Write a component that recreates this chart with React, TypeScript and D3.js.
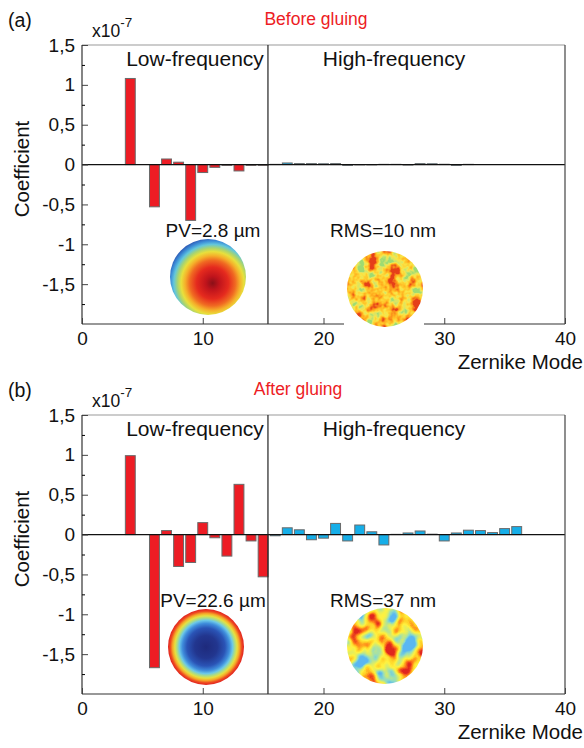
import React, { useEffect, useRef } from 'react';
import * as d3 from 'd3';

// Zernike modes (piston, tilt and mode 5 are absent)
const lowModes = [4, 6, 7, 8, 9, 10, 11, 12, 13, 14, 15];
const highModes = [16, 17, 18, 19, 20, 21, 22, 23, 24, 25, 26, 27, 28, 29, 30, 31, 32, 33, 34, 35, 36];

// coefficients, in units of 1e-7
const beforeLow = [1.08, -0.53, 0.07, 0.03, -0.70, -0.10, -0.035, -0.01, -0.08, -0.01, -0.01];
const beforeHigh = [0.003, 0.02, 0.012, 0.012, 0.01, 0.012, -0.01, -0.004, -0.004, 0.003, 0.003,
	-0.006, 0.012, 0.01, 0.004, -0.01, 0.003, 0, 0, 0, 0];
const afterLow = [0.99, -1.67, 0.05, -0.40, -0.35, 0.15, -0.04, -0.27, 0.63, -0.08, -0.53];
const afterHigh = [-0.015, 0.085, 0.06, -0.065, -0.045, 0.14, -0.08, 0.12, 0.035, -0.13, 0.003,
	0.02, 0.045, 0.005, -0.08, 0.02, 0.055, 0.05, 0.025, 0.075, 0.10];

const yTicks = [-1.5, -1, -0.5, 0, 0.5, 1, 1.5];
const yMinor = [-1.75, -1.25, -0.75, -0.25, 0.25, 0.75, 1.25];
const xTicks = [0, 10, 20, 30, 40];
const splitMode = 15.4;

const FONT = '"Liberation Sans", Arial, Helvetica, sans-serif';
const RED = '#ed1c24';
const BLUE = '#16aee8';

const panels = [
	{
		key: 'a', dy: 0, tag: '(a)', title: 'Before gluing', titleX: 316,
		low: beforeLow, high: beforeHigh, pv: 'PV=2.8 µm', rms: 'RMS=10 nm', axisGap: true,
		pvCenter: [208, 277], rmsCenter: [385, 289],
		pvGrad: { cx: 0.56, cy: 0.58, r: 0.6, stops: [
			[0, '#8a1018'], [0.15, '#c0141c'], [0.35, '#e52a1e'], [0.5, '#f06a22'], [0.6, '#f5b02a'],
			[0.69, '#e8e03c'], [0.77, '#a8d470'], [0.85, '#62c6dc'], [0.92, '#3e90d8'], [1, '#2c58b4']] },
		noise: { freq: 0.09, oct: 3, seed: 4, slope: 2.2, icpt: -0.6,
			r: '0.62 0.85 0.98 1 1 0.97 0.9',
			g: '0.86 0.9 0.9 0.8 0.68 0.5 0.25',
			b: '0.45 0.4 0.28 0.18 0.12 0.1 0.1' }
	},
	{
		key: 'b', dy: 370, tag: '(b)', title: 'After gluing', titleX: 298,
		low: afterLow, high: afterHigh, pv: 'PV=22.6 µm', rms: 'RMS=37 nm', axisGap: false,
		pvCenter: [206, 647], rmsCenter: [385, 646],
		pvGrad: { cx: 0.5, cy: 0.5, r: 0.5, stops: [
			[0, '#1e2a7c'], [0.3, '#22368f'], [0.5, '#2a54b6'], [0.62, '#3f8ddc'], [0.7, '#6cc8e8'],
			[0.76, '#a8dc8a'], [0.82, '#e6e040'], [0.88, '#f5a828'], [0.94, '#ee4a20'], [1, '#e02020']] },
		noise: { freq: 0.06, oct: 2, seed: 9, slope: 2.3, icpt: -0.65,
			r: '0.35 0.55 0.82 1 1 1 0.88',
			g: '0.72 0.86 0.92 0.95 0.82 0.48 0.15',
			b: '0.95 0.78 0.45 0.25 0.15 0.1 0.12' }
	}
];

const drawPanel = (svg, defs, p) => {
	const top = 45 + p.dy;
	const bottom = 324 + p.dy;
	const x = d3.scaleLinear().domain([0, 40]).range([82, 565]);
	const y = d3.scaleLinear().domain([-2, 1.5]).range([bottom, top]);
	const g = svg.append('g').attr('font-family', FONT);
	const half = 0.41;

	// bars
	const bars = [
		...lowModes.map((m, i) => ({ m, v: p.low[i], c: RED })),
		...highModes.map((m, i) => ({ m, v: p.high[i], c: BLUE }))
	].filter((d) => d.v !== 0);
	g.selectAll('rect.bar').data(bars)
		.enter()
		.append('rect')
		.attr('class', 'bar')
		.attr('x', (d) => x(d.m - half))
		.attr('width', x(half * 2) - x(0))
		.attr('y', (d) => y(Math.max(0, d.v)))
		.attr('height', (d) => Math.abs(y(d.v) - y(0)))
		.attr('fill', (d) => d.c)
		.attr('stroke', '#6a6a6a')
		.attr('stroke-width', 1);

	// frame
	g.append('line').attr('x1', x(0)).attr('x2', x(40)).attr('y1', y(0)).attr('y2', y(0))
		.attr('stroke', '#111').attr('stroke-width', 1.2);
	g.append('line').attr('x1', x(0)).attr('x2', x(40)).attr('y1', top).attr('y2', top)
		.attr('stroke', '#999').attr('stroke-width', 1);
	g.append('line').attr('x1', x(splitMode)).attr('x2', x(splitMode)).attr('y1', top).attr('y2', bottom)
		.attr('stroke', '#222').attr('stroke-width', 1.2);
	g.append('line').attr('x1', x(40)).attr('x2', x(40)).attr('y1', top).attr('y2', bottom)
		.attr('stroke', '#444').attr('stroke-width', 1.2);

	const yAxis = g.append('g').attr('transform', `translate(${ x(0) },0)`)
		.call(d3.axisLeft(y).tickValues(yTicks)
			.tickSizeInner(-6)
			.tickSizeOuter(0)
			.tickPadding(7)
			.tickFormat((d) => String(d).replace('.', ',')));
	yAxis.select('.domain').remove();
	g.append('line').attr('x1', x(0)).attr('x2', x(0)).attr('y1', top).attr('y2', bottom)
		.attr('stroke', '#333').attr('stroke-width', 1.2);
	g.append('g').attr('transform', `translate(${ x(0) },0)`)
		.call(d3.axisLeft(y).tickValues(yMinor)
			.tickSizeInner(-3)
			.tickSizeOuter(0)
			.tickFormat(() => ''))
		.select('.domain')
		.remove();

	const xAxis = g.append('g').attr('transform', `translate(0,${ bottom })`)
		.call(d3.axisBottom(x).tickValues(xTicks)
			.tickSizeInner(-6)
			.tickSizeOuter(0)
			.tickPadding(8));
	xAxis.select('.domain').remove();
	g.append('line').attr('x1', x(0)).attr('x2', x(40)).attr('y1', bottom).attr('y2', bottom)
		.attr('stroke', '#333').attr('stroke-width', 1.2);
	[yAxis, xAxis].forEach((a) => {
		a.attr('font-family', FONT).attr('font-size', 19);
		a.selectAll('line').attr('stroke', '#444');
		a.selectAll('text').attr('fill', '#111');
	});

	// texts
	const text = (tx, ty, s, size, anchor = 'middle', fill = '#111') => g.append('text')
		.attr('x', tx).attr('y', ty)
		.attr('font-size', size)
		.attr('text-anchor', anchor)
		.attr('fill', fill)
		.text(s);
	text(8, 27 + p.dy, p.tag, 19.5, 'start');
	text(p.titleX, 25 + p.dy, p.title, 17.5, 'middle', RED);
	const sci = text(92, 37 + p.dy, 'x10', 17.5, 'start');
	sci.append('tspan').attr('dy', -10).attr('font-size', 13.5).text('-7');
	text(195, 66 + p.dy, 'Low-frequency', 21);
	text(394, 66 + p.dy, 'High-frequency', 21);
	text(583, 369 + p.dy, 'Zernike Mode', 20.5, 'end');
	g.append('text').attr('transform', `translate(29,${ 169 + p.dy }) rotate(-90)`)
		.attr('font-size', 20.5).attr('text-anchor', 'middle').attr('fill', '#111')
		.text('Coefficient');
	text(213, 237 + p.dy, p.pv, 19);
	text(383, 237 + p.dy, p.rms, 19);

	// PV map (radial gradient)
	const gr = defs.append('radialGradient').attr('id', `pv-${ p.key }`)
		.attr('cx', p.pvGrad.cx).attr('cy', p.pvGrad.cy).attr('r', p.pvGrad.r);
	p.pvGrad.stops.forEach(([o, c]) => gr.append('stop').attr('offset', o).attr('stop-color', c));
	const R = 38;
	g.append('circle').attr('cx', p.pvCenter[0]).attr('cy', p.pvCenter[1]).attr('r', R)
		.attr('fill', `url(#pv-${ p.key })`);

	// RMS map (filtered noise)
	const [rx, ry] = p.rmsCenter;
	const n = p.noise;
	const f = defs.append('filter').attr('id', `rms-${ p.key }`)
		.attr('filterUnits', 'userSpaceOnUse')
		.attr('x', rx - R).attr('y', ry - R).attr('width', R * 2).attr('height', R * 2)
		.attr('color-interpolation-filters', 'sRGB');
	f.append('feTurbulence').attr('type', 'fractalNoise').attr('baseFrequency', n.freq)
		.attr('numOctaves', n.oct).attr('seed', n.seed);
	f.append('feColorMatrix').attr('type', 'matrix')
		.attr('values', '1 0 0 0 0  1 0 0 0 0  1 0 0 0 0  0 0 0 0 1');
	const stretch = f.append('feComponentTransfer');
	['feFuncR', 'feFuncG', 'feFuncB'].forEach((fn) => stretch.append(fn).attr('type', 'linear')
		.attr('slope', n.slope).attr('intercept', n.icpt));
	const map = f.append('feComponentTransfer');
	map.append('feFuncR').attr('type', 'table').attr('tableValues', n.r);
	map.append('feFuncG').attr('type', 'table').attr('tableValues', n.g);
	map.append('feFuncB').attr('type', 'table').attr('tableValues', n.b);
	defs.append('clipPath').attr('id', `clip-${ p.key }`)
		.append('circle').attr('cx', rx).attr('cy', ry).attr('r', R);
	if (p.axisGap) {
		g.append('rect').attr('x', 344).attr('y', bottom - 4).attr('width', 80).attr('height', 8)
			.attr('fill', '#fff');
	}
	g.append('rect').attr('x', rx - R).attr('y', ry - R).attr('width', R * 2).attr('height', R * 2)
		.attr('filter', `url(#rms-${ p.key })`)
		.attr('clip-path', `url(#clip-${ p.key })`);
};

const App = () => {
	const ref = useRef(null);

	useEffect(() => {
		const svg = d3.select(ref.current);
		svg.selectAll('*').remove();
		const defs = svg.append('defs');
		panels.forEach((p) => drawPanel(svg, defs, p));
	}, []);

	return (
		<svg ref={ ref } width={ 584 } height={ 748 }
			style={ { position: 'absolute', left: 0, top: 0, background: '#fff' } }/>
	);
};

export default App;
